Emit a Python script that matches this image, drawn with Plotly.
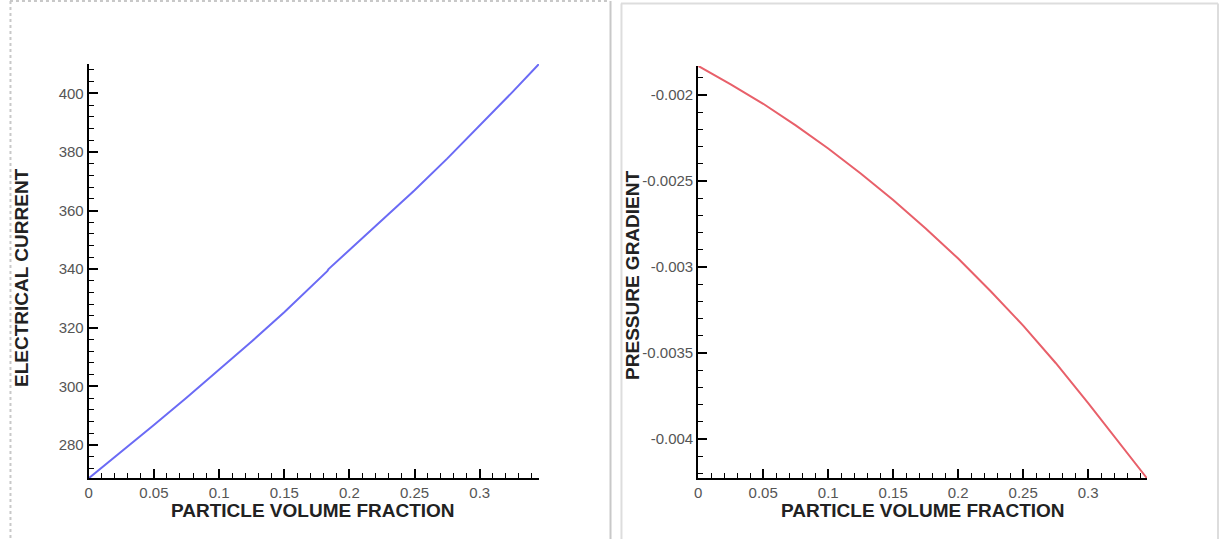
import plotly.graph_objects as go

W, H = 1220, 539

# ---- data ----
current_x = [0, 0.025, 0.05, 0.075, 0.1, 0.125, 0.15, 0.175, 0.183, 0.184, 0.2, 0.225, 0.25, 0.275, 0.3, 0.325, 0.3454]
current_y = [268.6, 277.6, 286.8, 296.1, 305.6, 315.3, 325.3, 335.8, 339.3, 340.0, 346.5, 356.6, 366.9, 377.7, 389.0, 400.4, 410.0]

pressure_x = [0, 0.025, 0.05, 0.075, 0.1, 0.125, 0.15, 0.175, 0.2, 0.2055, 0.2065, 0.225, 0.25, 0.275, 0.3, 0.325, 0.3452]
pressure_y = [-0.001831, -0.001938, -0.002051, -0.002177, -0.002311, -0.002456, -0.002611, -0.002776, -0.002951,
              -0.002992, -0.003004, -0.003141, -0.003341, -0.003558, -0.003791, -0.004030, -0.004228]

x_tickvals = [0, 0.05, 0.1, 0.15, 0.2, 0.25, 0.3]
x_ticktext = ["0", "0.05", "0.1", "0.15", "0.2", "0.25", "0.3"]
current_tickvals = [280, 300, 320, 340, 360, 380, 400]
current_ticktext = ["280", "300", "320", "340", "360", "380", "400"]
pressure_tickvals = [-0.004, -0.0035, -0.003, -0.0025, -0.002]
pressure_ticktext = ["-0.004", "-0.0035", "-0.003", "-0.0025", "-0.002"]

x_title = "PARTICLE VOLUME FRACTION"
left_title = "ELECTRICAL CURRENT"
right_title = "PRESSURE GRADIENT"

def px(x):
    return x / W

def py(y):
    return 1 - y / H

fig = go.Figure()
fig.add_trace(go.Scatter(x=current_x, y=current_y, mode="lines",
                         line=dict(color="#6b6bf5", width=2), xaxis="x", yaxis="y", showlegend=False))
fig.add_trace(go.Scatter(x=pressure_x, y=pressure_y, mode="lines",
                         line=dict(color="#e8606a", width=2), xaxis="x2", yaxis="y2", showlegend=False))

tickfont = dict(family="Liberation Sans, Arial, sans-serif", size=15, color="#555555")
common_axis = dict(showgrid=False, zeroline=False, showline=True, linecolor="black", linewidth=2,
                   ticks="inside", tickcolor="black", tickwidth=2, ticklen=9, tickfont=tickfont)

fig.update_layout(
    width=W, height=H, margin=dict(l=0, r=0, t=0, b=0),
    paper_bgcolor="white", plot_bgcolor="white",
    xaxis=dict(domain=[px(85), px(536.7)], range=[0, 0.3454], anchor="y",
               tickvals=x_tickvals, ticktext=x_ticktext,
               minor=dict(ticks="inside", ticklen=5, tickcolor="black", tickwidth=1, dtick=0.01, tick0=0),
               **common_axis),
    yaxis=dict(domain=[py(478.3), py(64)], range=[268.6, 410], anchor="x",
               tickvals=current_tickvals, ticktext=current_ticktext,
               minor=dict(ticks="inside", ticklen=5, tickcolor="black", tickwidth=1, dtick=4, tick0=0),
               **common_axis),
    xaxis2=dict(domain=[px(696.5), px(1146.7)], range=[0, 0.3452], anchor="y2",
                tickvals=x_tickvals, ticktext=x_ticktext,
                minor=dict(ticks="inside", ticklen=5, tickcolor="black", tickwidth=1, dtick=0.01, tick0=0),
                **common_axis),
    yaxis2=dict(domain=[py(478.3), py(66)], range=[-0.0042285, -0.0018314], anchor="x2",
                tickvals=pressure_tickvals, ticktext=pressure_ticktext,
                minor=dict(ticks="inside", ticklen=5, tickcolor="black", tickwidth=1, dtick=0.0001, tick0=0),
                **common_axis),
)

titlefont = dict(family="Liberation Sans, Arial, sans-serif", size=19, color="#222222")
ann = [
    dict(text="<b>%s</b>" % x_title, x=px(310), y=py(510), xref="paper", yref="paper",
         showarrow=False, font=titlefont, xanchor="center", yanchor="middle"),
    dict(text="<b>%s</b>" % x_title, x=px(922), y=py(510), xref="paper", yref="paper",
         showarrow=False, font=titlefont, xanchor="center", yanchor="middle"),
    dict(text="<b>%s</b>" % left_title, x=px(17), y=py(277), xref="paper", yref="paper",
         showarrow=False, font=titlefont, textangle=-90, xanchor="center", yanchor="middle"),
    dict(text="<b>%s</b>" % right_title, x=px(630), y=py(275), xref="paper", yref="paper",
         showarrow=False, font=titlefont, textangle=-90, xanchor="center", yanchor="middle"),
]
fig.update_layout(annotations=ann)

shapes = [
    # left panel dotted frame
    dict(type="line", xref="paper", yref="paper", x0=px(6), x1=px(608), y0=py(1), y1=py(1),
         line=dict(color="#c8c8c8", width=2, dash="dot")),
    dict(type="line", xref="paper", yref="paper", x0=px(6.5), x1=px(6.5), y0=py(1), y1=py(539),
         line=dict(color="#c8c8c8", width=2, dash="dot")),
    dict(type="line", xref="paper", yref="paper", x0=px(608.5), x1=px(608.5), y0=py(1), y1=py(539),
         line=dict(color="#c8c8c8", width=2)),
    # right panel frame
    dict(type="line", xref="paper", yref="paper", x0=px(619), x1=px(1218), y0=py(3.5), y1=py(3.5),
         line=dict(color="#dddddd", width=2)),
    dict(type="line", xref="paper", yref="paper", x0=px(619.5), x1=px(619.5), y0=py(3.5), y1=py(539),
         line=dict(color="#dddddd", width=2)),
    dict(type="line", xref="paper", yref="paper", x0=px(1218), x1=px(1218), y0=py(3.5), y1=py(539),
         line=dict(color="#dddddd", width=2)),
]
fig.update_layout(shapes=shapes)

fig.write_html("out.html")
